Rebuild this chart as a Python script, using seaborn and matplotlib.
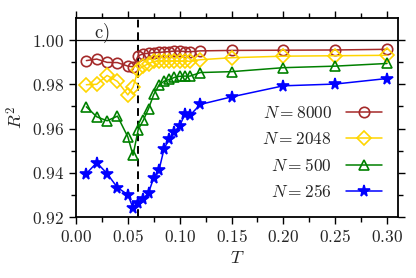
import matplotlib
matplotlib.use("Agg")
import matplotlib.pyplot as plt
import seaborn as sns
import pandas as pd
from matplotlib.ticker import MultipleLocator, FuncFormatter

T = [0.01, 0.02, 0.03, 0.04, 0.05, 0.055, 0.06, 0.065, 0.07, 0.075, 0.08,
     0.085, 0.09, 0.095, 0.10, 0.105, 0.11, 0.12, 0.15, 0.20, 0.25, 0.30]
R2_8000 = [0.9907, 0.9914, 0.9899, 0.9898, 0.9882, 0.9879, 0.9929, 0.9938, 0.9940, 0.9943, 0.9944,
           0.9946, 0.9948, 0.9950, 0.9950, 0.9948, 0.9947, 0.9951, 0.9953, 0.9954, 0.9955, 0.9958]
R2_2048 = [0.9798, 0.9800, 0.9840, 0.9813, 0.9752, 0.9787, 0.9866, 0.9882, 0.9893, 0.9903, 0.9906,
           0.9905, 0.9905, 0.9905, 0.9904, 0.9905, 0.9904, 0.9911, 0.9920, 0.9927, 0.9929, 0.9931]
R2_500 = [0.9698, 0.9653, 0.9635, 0.9656, 0.9562, 0.9479, 0.9595, 0.9638, 0.9690, 0.9754, 0.9796,
          0.9814, 0.9822, 0.9831, 0.9836, 0.9837, 0.9837, 0.9853, 0.9857, 0.9875, 0.9882, 0.9894]
R2_256 = [0.9396, 0.9446, 0.9396, 0.9333, 0.9301, 0.9242, 0.9263, 0.9283, 0.9310, 0.9378, 0.9411,
          0.9509, 0.9554, 0.9585, 0.9612, 0.9665, 0.9660, 0.9709, 0.9743, 0.9793, 0.9801, 0.9826]
labels = ["$N = 8000$", "$N = 2048$", "$N = 500$", "$N = 256$"]
T_c = 0.06

sns.set_theme(style="ticks")
plt.rcParams["mathtext.fontset"] = "cm"
plt.rcParams["font.family"] = ["DejaVu Serif"]

fig = plt.figure(figsize=(4.16, 2.78), dpi=100)
ax = fig.add_axes([0.1827, 0.2194, 0.9567 - 0.1827, 0.934 - 0.2194])

series = [
    (R2_8000, "#A52A2A", "o", 7.5, False),
    (R2_2048, "#FFD500", "D", 7, False),
    (R2_500, "#008000", "^", 7.5, False),
    (R2_256, "#0000FF", "*", 8.5, True),
]
for (vals, col, mk, ms, filled), lab in zip(series, labels):
    df = pd.DataFrame({"T": T, "R2": vals})
    sns.lineplot(data=df, x="T", y="R2", ax=ax, color=col, marker=mk,
                 markersize=ms, markerfacecolor=col if filled else "none",
                 markeredgecolor=col, markeredgewidth=1.2, linewidth=1.1,
                 label=lab)

ax.axhline(1.0, color="black", linewidth=0.9, zorder=0)
ax.axvline(T_c, color="black", linewidth=1.4, linestyle=(0, (4, 2.5)), zorder=0)

ax.set_xlim(0.0, 0.3106)
ax.set_ylim(0.92, 1.0098)
ax.xaxis.set_major_locator(MultipleLocator(0.05))
ax.xaxis.set_minor_locator(MultipleLocator(0.025))
ax.yaxis.set_major_locator(MultipleLocator(0.02))
ax.yaxis.set_minor_locator(MultipleLocator(0.01))
fmt = FuncFormatter(lambda v, p: "$%.2f$" % v)
ax.xaxis.set_major_formatter(fmt)
ax.yaxis.set_major_formatter(fmt)
ax.tick_params(which="both", direction="out", top=True, right=True,
               labelsize=12.5, width=1.0, color="black")
ax.tick_params(which="major", length=5)
ax.tick_params(which="minor", length=3.5)
for s in ax.spines.values():
    s.set_linewidth(1.3)
    s.set_color("black")

ax.set_xlabel("$T$", fontsize=13, labelpad=2)
ax.set_ylabel("$R^2$", fontsize=13, labelpad=4)
ax.text(0.08, 0.925, r"$\mathrm{c)}$", transform=ax.transAxes, fontsize=13.5,
        ha="center", va="center")

ax.legend(loc="lower right", frameon=False, markerfirst=False, fontsize=12.5,
          handlelength=2.1, handletextpad=0.8, labelspacing=0.55)

fig.savefig("out.png", dpi=100)
